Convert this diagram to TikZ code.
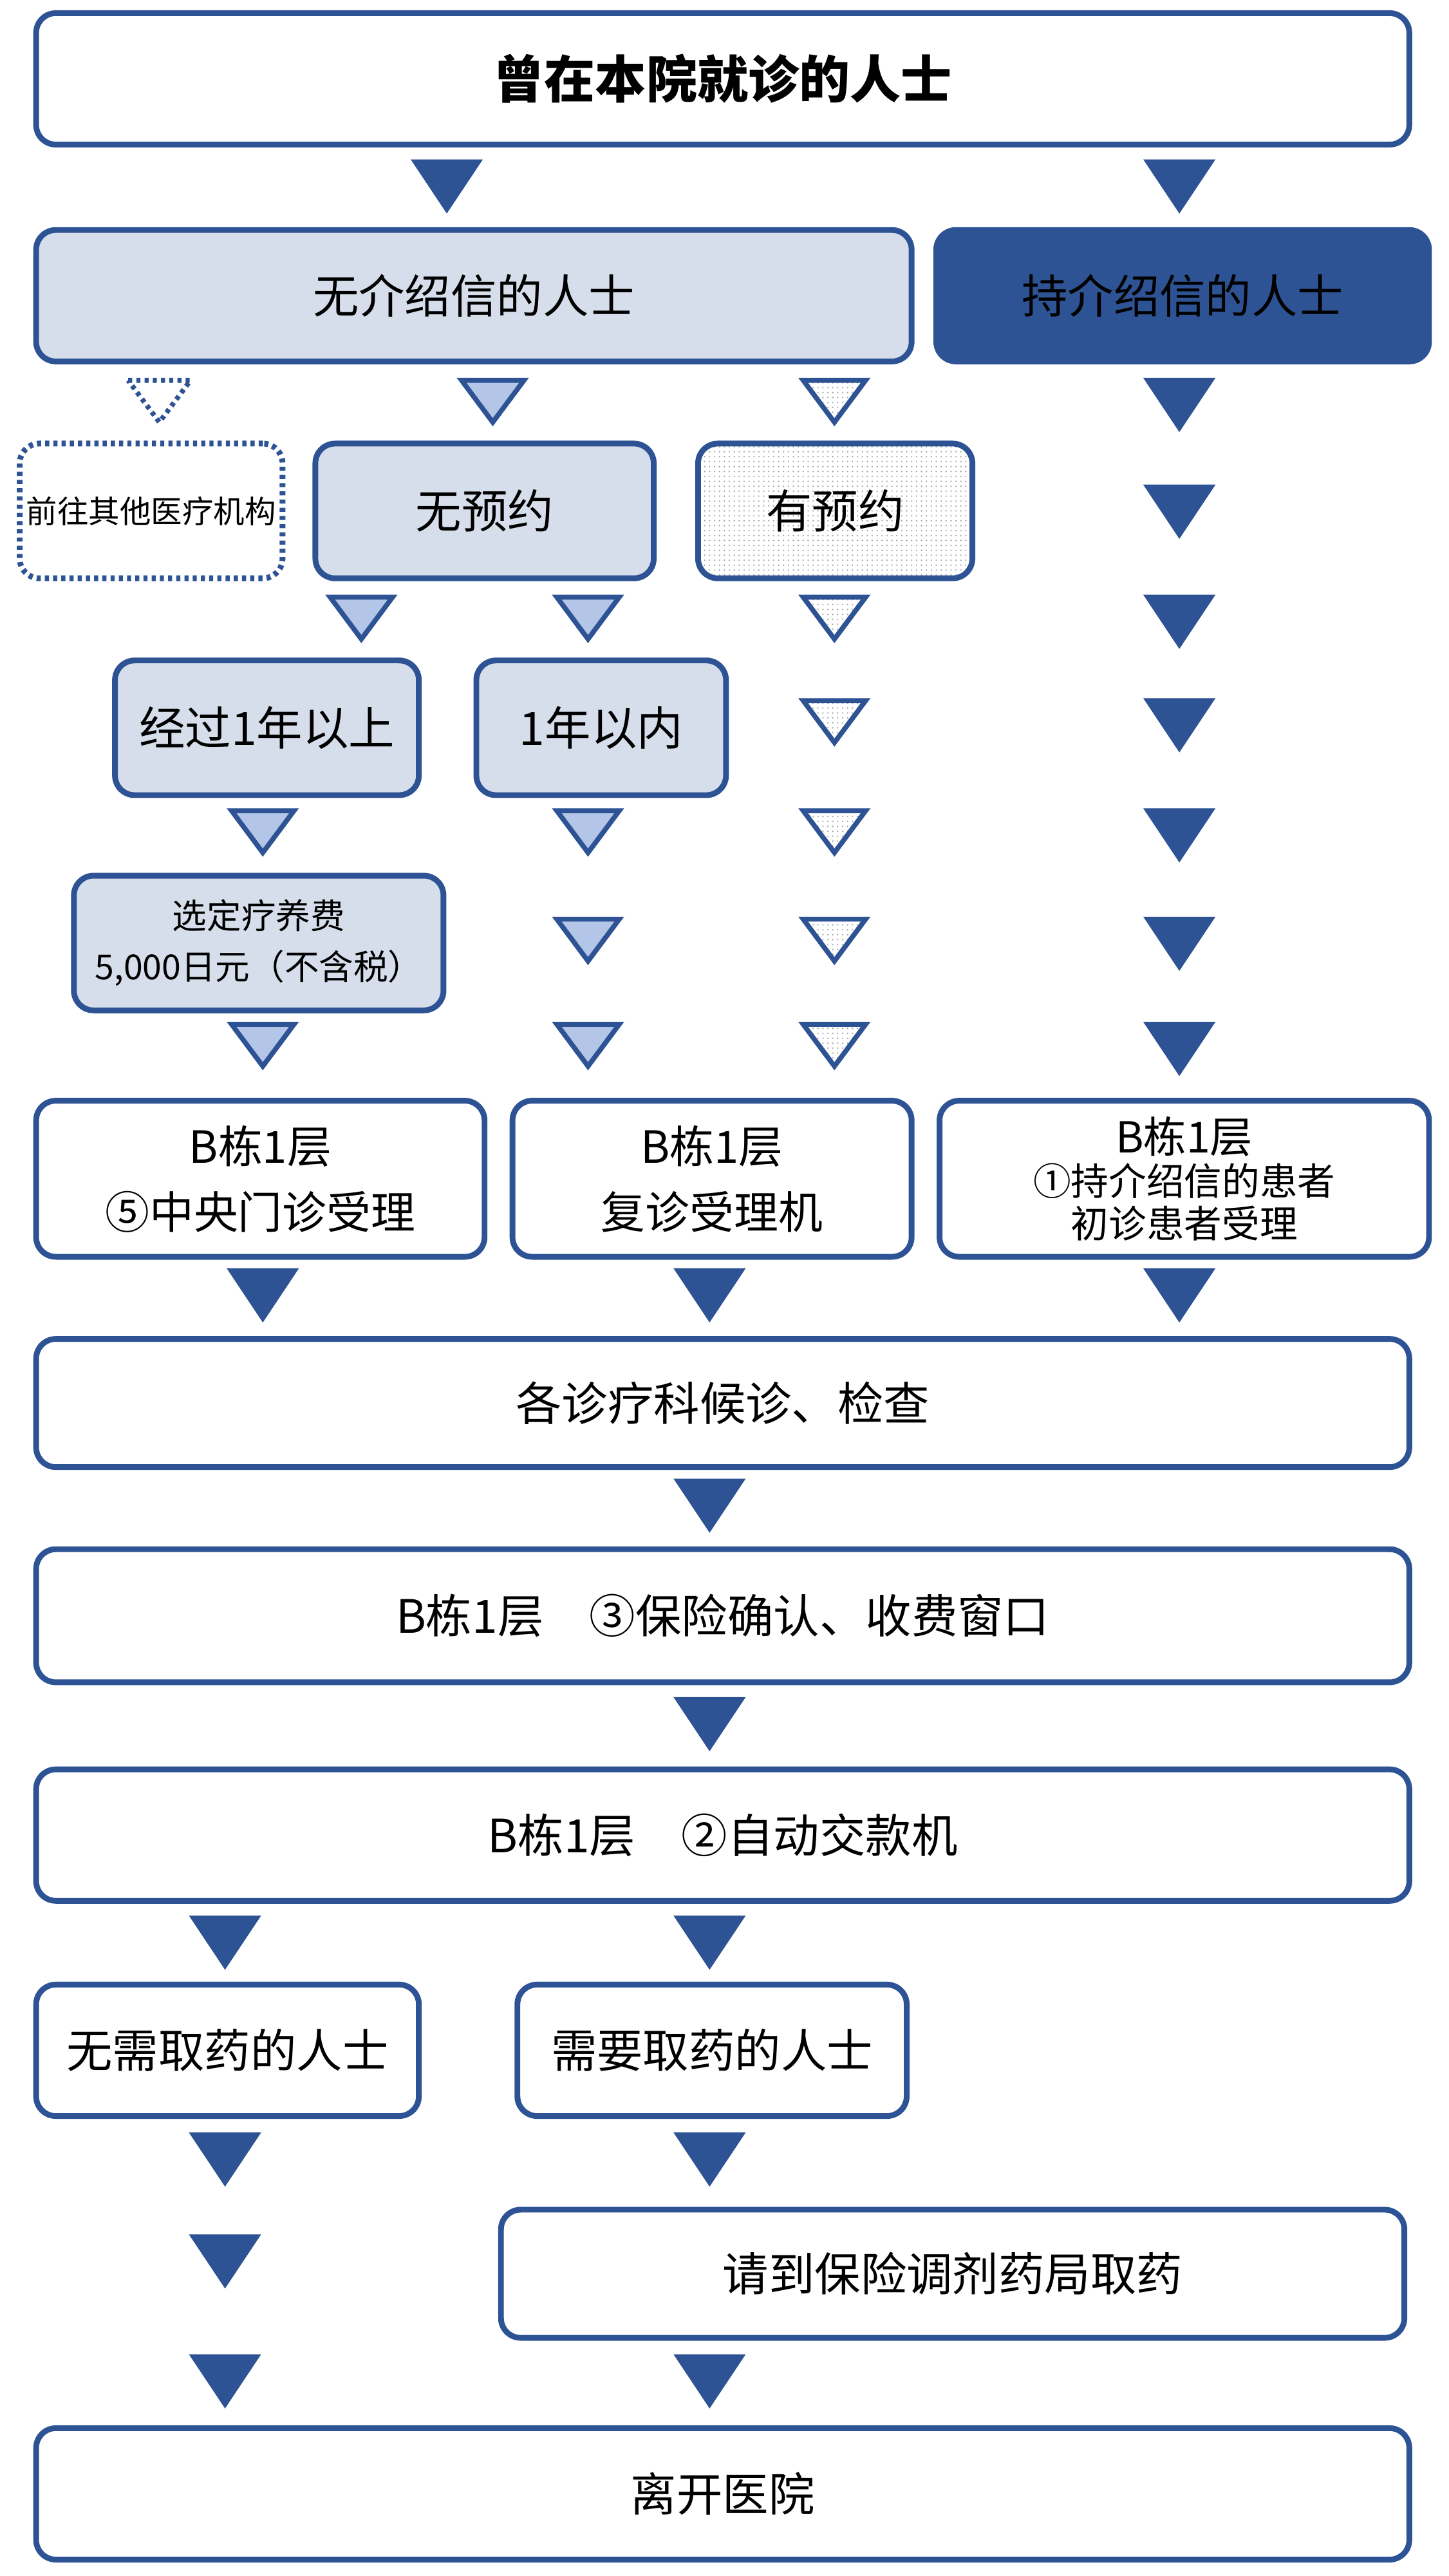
\documentclass[tikz,border=0pt]{standalone}
\usepackage{fontspec}
\setmainfont{Noto Sans CJK SC}
\usetikzlibrary{patterns}
\definecolor{flowblue}{HTML}{2E5395}
\definecolor{flowlight}{HTML}{D6DEEB}
\definecolor{trilight}{HTML}{B4C6E7}

\tikzset{
  stepbox/.style={draw=flowblue, line width=3.5pt, rounded corners=12pt, fill=white,
    align=center, inner sep=0pt, text=black, font=\fontsize{28}{34}\selectfont},
  lightbox/.style={stepbox, fill=flowlight},
  darkbox/.style={stepbox, fill=flowblue},
  dotbox/.style={stepbox, fill=none, pattern=dots, pattern color=gray!70},
  otherbox/.style={stepbox, dash pattern=on 2.5pt off 2.5pt, font=\fontsize{19}{22}\selectfont},
  trilight/.style={draw=flowblue, line width=3pt, fill=trilight},
  tridots/.style={draw=flowblue, line width=3pt, pattern=dots, pattern color=gray!70},
  triother/.style={draw=flowblue, line width=3pt, dash pattern=on 2.5pt off 2.5pt},
}

\begin{document}
\begin{tikzpicture}[x=1pt, y=-1pt]
    % Canvas
    \fill[white] (0,0) rectangle (882,1568);
    \useasboundingbox (0,0) rectangle (882,1568);

    % Start
    \node[stepbox, minimum width=836, minimum height=80, font=\fontsize{31}{36}\selectfont\bfseries] (top) at (440,48) {曾在本院就诊的人士};

    % Referral split
    \node[lightbox, minimum width=533, minimum height=80] (nointro) at (288.5,180) {无介绍信的人士};
    \node[darkbox, minimum width=300, minimum height=80] (intro) at (720,180) {持介绍信的人士};

    % Appointment split
    \node[otherbox, minimum width=160, minimum height=82] (other) at (92,311) {前往其他医疗机构};
    \node[lightbox, minimum width=206, minimum height=82] (noappt) at (295,311) {无预约};
    \node[dotbox, minimum width=167, minimum height=82] (appt) at (508.5,311) {有预约};

    % Last visit
    \node[lightbox, minimum width=185, minimum height=82] (overyear) at (162.5,443) {经过1年以上};
    \node[lightbox, minimum width=152, minimum height=82] (inyear) at (366,443) {1年以内};
    \node[lightbox, minimum width=225, minimum height=82, font=\fontsize{21}{31}\selectfont] (fee) at (157.5,574) {选定疗养费\\5,000日元（不含税）};

    % Reception desks
    \node[stepbox, minimum width=273, minimum height=95, font=\fontsize{27}{40}\selectfont] (deskA) at (158.5,717.5) {B栋1层\\⑤中央门诊受理};
    \node[stepbox, minimum width=243, minimum height=95, font=\fontsize{27}{40}\selectfont] (deskB) at (433.5,717.5) {B栋1层\\复诊受理机};
    \node[stepbox, minimum width=298, minimum height=95, font=\fontsize{23}{26}\selectfont] (deskC) at (721,717.5) {{\fontsize{26}{28}\selectfont B栋1层}\\①持介绍信的患者\\初诊患者受理};

    % Common steps
    \node[stepbox, minimum width=836, minimum height=78] (wait) at (440,854) {各诊疗科候诊、检查};
    \node[stepbox, minimum width=836, minimum height=81] (insur) at (440,983.5) {B栋1层\hspace{1em}③保险确认、收费窗口};
    \node[stepbox, minimum width=836, minimum height=80] (pay) at (440,1117) {B栋1层\hspace{1em}②自动交款机};

    % Medicine
    \node[stepbox, minimum width=233, minimum height=80] (nomed) at (138.5,1248) {无需取药的人士};
    \node[stepbox, minimum width=237, minimum height=80] (med) at (433.5,1248) {需要取药的人士};
    \node[stepbox, minimum width=550, minimum height=78] (pharm) at (580,1384) {请到保险调剂药局取药};

    % End
    \node[stepbox, minimum width=836, minimum height=80] (leave) at (440,1518) {离开医院};

    % Flow triangles
    \foreach \x/\y in {272/97, 718/97, 718/230, 718/295, 718/362, 718/425, 718/492,
                       718/558, 718/622, 160/772, 432/772, 718/772, 432/900, 432/1033,
                       137/1166, 432/1166, 137/1298, 432/1298, 137/1360, 137/1433, 432/1433}
        \fill[flowblue] (\x-22,\y) -- (\x+22,\y) -- (\x,\y+33) -- cycle;
    \foreach \x/\y in {300/230, 220/362, 358/362, 160/492, 358/492, 358/558, 160/622, 358/622}
        \draw[trilight] (\x-19,\y+1.5) -- (\x+19,\y+1.5) -- (\x,\y+27) -- cycle;
    \foreach \x/\y in {508/230, 508/362, 508/425, 508/492, 508/558, 508/622}
        \draw[tridots] (\x-19,\y+1.5) -- (\x+19,\y+1.5) -- (\x,\y+27) -- cycle;
    \draw[triother] (97-19,231.5) -- (97+19,231.5) -- (97,257) -- cycle;
\end{tikzpicture}
\end{document}
